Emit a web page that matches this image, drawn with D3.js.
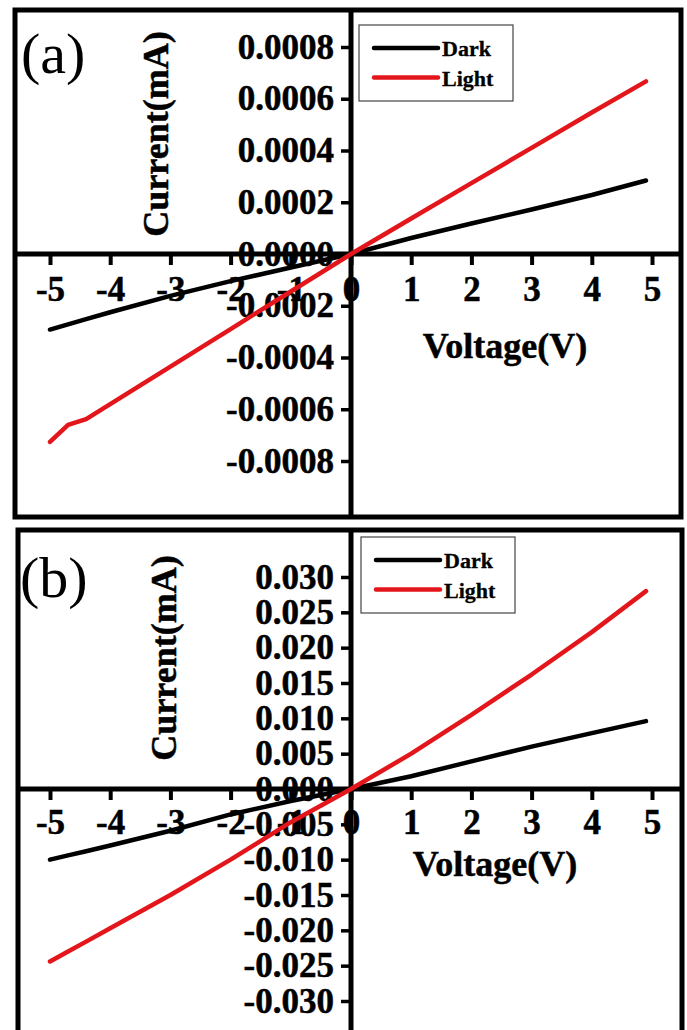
<!DOCTYPE html>
<html>
<head>
<meta charset="utf-8">
<script src="https://cdn.jsdelivr.net/npm/d3@7"></script>
<style>
  body { margin: 0; background: #fff; }
  svg { display: block; }
  text { font-family: "Liberation Serif", "Times New Roman", serif; }
</style>
</head>
<body>
<svg id="chart"></svg>
<script>
// values (voltage in V, current in mA)
const voltage = [-5, -4.7, -4.4, -4, -3, -2, -1, 0, 1, 2, 3, 4, 4.9];

const darkA = [-0.000292, -0.000272, -0.000252, -0.000225, -0.000162, -0.000105, -0.000052, 0, 0.000062, 0.000118, 0.000172, 0.000228, 0.000284];
const lightA = [-0.000726, -0.00066, -0.000638, -0.00058, -0.000435, -0.00029, -0.000145, 0, 0.000137, 0.000274, 0.00041, 0.000547, 0.000667];

const darkB = [-0.0100, -0.0094, -0.0088, -0.0080, -0.0059, -0.0036, -0.0017, 0, 0.0018, 0.0039, 0.0060, 0.0079, 0.0096];
const lightB = [-0.0244, -0.0230, -0.0216, -0.0197, -0.0150, -0.0100, -0.0047, 0, 0.0050, 0.0105, 0.0162, 0.0222, 0.0280];

const xTicks = [-5, -4, -3, -2, -1, 0, 1, 2, 3, 4, 5];
const yTicksA = [-0.0008, -0.0006, -0.0004, -0.0002, 0, 0.0002, 0.0004, 0.0006, 0.0008];
const yTicksB = [-0.030, -0.025, -0.020, -0.015, -0.010, -0.005, 0, 0.005, 0.010, 0.015, 0.020, 0.025, 0.030];

const seriesNames = ["Dark", "Light"];
const seriesColors = ["#000000", "#e3161b"];

const width = 687;
const height = 1030;

const svg = d3.select("#chart").attr("width", width).attr("height", height);
svg.append("rect").attr("width", width).attr("height", height).attr("fill", "#fff");

const panels = [
  {
    tag: "(a)", tagX: 21, tagY: 73,
    frame: { x: 15, y: 10, w: 666, h: 507 },
    yDomain: [-0.0008, 0.0008], yRange: [461, 47], yTicks: yTicksA, digits: 4,
    series: [darkA, lightA],
    legend: { x: 359, y: 25 },
    yLabel: { x: 168, y: 134 },
    xLabel: { x: 505, y: 358 },
    xPad: 11
  },
  {
    tag: "(b)", tagX: 20, tagY: 597,
    frame: { x: 18, y: 530, w: 664, h: 540 },
    yDomain: [-0.03, 0.03], yRange: [1001, 577], yTicks: yTicksB, digits: 3,
    series: [darkB, lightB],
    legend: { x: 361, y: 537 },
    yLabel: { x: 176, y: 658 },
    xLabel: { x: 495, y: 876 },
    xPad: 9
  }
];

const fmtX = (d) => String(d);

// bold serif labels, a hair heavier like the scanned figure
const boldText = (sel, size) =>
  sel.attr("fill", "#000")
    .attr("stroke", "#000")
    .attr("stroke-width", 0.5)
    .style("font-family", '"Liberation Serif", serif')
    .style("font-weight", "bold")
    .style("font-size", size);

panels.forEach((p) => {
  const g = svg.append("g");

  const xScale = d3.scaleLinear().domain([-5, 5]).range([50, 652]);
  const yScale = d3.scaleLinear().domain(p.yDomain).range(p.yRange);
  const x0 = xScale(0);
  const y0 = yScale(0);

  // outer frame
  g.append("rect")
    .attr("x", p.frame.x).attr("y", p.frame.y)
    .attr("width", p.frame.w).attr("height", p.frame.h)
    .attr("fill", "none").attr("stroke", "#000").attr("stroke-width", 5);

  // panel tag
  g.append("text")
    .attr("x", p.tagX).attr("y", p.tagY)
    .style("font-size", "58px")
    .text(p.tag);

  // x axis (ticks + labels), line drawn separately across the frame
  const xAxis = g.append("g")
    .attr("transform", `translate(0,${y0})`)
    .call(d3.axisBottom(xScale).tickValues(xTicks).tickFormat(fmtX).tickSizeInner(11).tickSizeOuter(0).tickPadding(p.xPad));
  xAxis.select(".domain").remove();
  xAxis.selectAll("line").attr("stroke", "#000").attr("stroke-width", 4);
  boldText(xAxis.selectAll("text"), "35px");

  // y axis
  const yAxis = g.append("g")
    .attr("transform", `translate(${x0},0)`)
    .call(d3.axisLeft(yScale).tickValues(p.yTicks).tickFormat((d) => d.toFixed(p.digits)).tickSizeInner(10).tickSizeOuter(0).tickPadding(7));
  yAxis.select(".domain").remove();
  yAxis.selectAll("line").attr("stroke", "#000").attr("stroke-width", 3.5);
  boldText(yAxis.selectAll("text"), "35px");

  // axis lines through origin
  g.append("line")
    .attr("x1", p.frame.x).attr("x2", p.frame.x + p.frame.w)
    .attr("y1", y0).attr("y2", y0)
    .attr("stroke", "#000").attr("stroke-width", 5);
  g.append("line")
    .attr("x1", x0).attr("x2", x0)
    .attr("y1", p.frame.y).attr("y2", p.frame.y + p.frame.h)
    .attr("stroke", "#000").attr("stroke-width", 5);

  // axis titles
  boldText(g.append("text"), "36px")
    .attr("text-anchor", "middle")
    .attr("transform", `translate(${p.yLabel.x},${p.yLabel.y}) rotate(-90)`)
    .text("Current(mA)");

  boldText(g.append("text"), "36px")
    .attr("text-anchor", "middle")
    .attr("x", p.xLabel.x).attr("y", p.xLabel.y)
    .text("Voltage(V)");

  // data lines
  const line = d3.line()
    .x((d) => xScale(d[0]))
    .y((d) => yScale(d[1]));

  p.series.forEach((vals, i) => {
    g.append("path")
      .datum(voltage.map((v, k) => [v, vals[k]]))
      .attr("fill", "none")
      .attr("stroke", seriesColors[i])
      .attr("stroke-width", 4.5)
      .attr("stroke-linejoin", "round")
      .attr("stroke-linecap", "round")
      .attr("d", line);
  });

  // legend
  const lg = g.append("g").attr("transform", `translate(${p.legend.x},${p.legend.y})`);
  lg.append("rect")
    .attr("width", 154).attr("height", 76)
    .attr("fill", "#fff").attr("stroke", "#444").attr("stroke-width", 1.2);
  seriesNames.forEach((name, i) => {
    const yy = 23 + i * 29.5;
    lg.append("line")
      .attr("x1", 15).attr("x2", 79)
      .attr("y1", yy).attr("y2", yy)
      .attr("stroke", seriesColors[i]).attr("stroke-width", 4.5)
      .attr("stroke-linecap", "round");
    boldText(lg.append("text"), "22px")
      .attr("stroke-width", 0.3)
      .attr("x", 83).attr("y", yy + 8)
      .text(name);
  });
});
</script>
</body>
</html>
